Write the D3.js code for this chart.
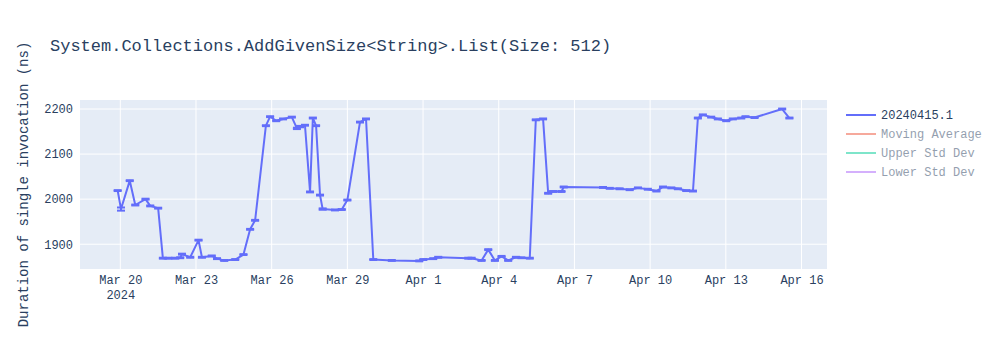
<!DOCTYPE html>
<html>
  <head>
    <meta charset="utf-8">
    <title>AddGivenSize List benchmark</title>
    <style>
      body { margin: 0; background: #fff; }
      svg text { font-family: "Liberation Mono", "Courier New", monospace; }
    </style>
  </head>
  <body>
    <div class="chart-area"></div>

    <script src="https://d3js.org/d3.v7.min.js"></script>
    <script>
      // run timestamps
      var dates = [
        "2024-03-19T21:30", "2024-03-20T00:40", "2024-03-20T09:00", "2024-03-20T14:15",
        "2024-03-21T00:00", "2024-03-21T04:30", "2024-03-21T12:00", "2024-03-21T16:30",
        "2024-03-21T21:40", "2024-03-22T04:20", "2024-03-22T09:00", "2024-03-22T10:40",
        "2024-03-22T18:30", "2024-03-23T02:25", "2024-03-23T05:40", "2024-03-23T15:00",
        "2024-03-23T20:00", "2024-03-24T02:50", "2024-03-24T13:20", "2024-03-24T21:10",
        "2024-03-25T03:30", "2024-03-25T08:15", "2024-03-25T18:30", "2024-03-25T22:30",
        "2024-03-26T04:20", "2024-03-26T10:50", "2024-03-26T19:10", "2024-03-27T00:00",
        "2024-03-27T03:00", "2024-03-27T07:40", "2024-03-27T12:30", "2024-03-27T15:10",
        "2024-03-27T18:15", "2024-03-27T22:00", "2024-03-28T00:30", "2024-03-28T12:15",
        "2024-03-28T18:40", "2024-03-29T00:00", "2024-03-29T12:00", "2024-03-29T17:45",
        "2024-03-30T00:40", "2024-03-30T18:15", "2024-03-31T20:25", "2024-04-01T00:15",
        "2024-04-01T09:40", "2024-04-01T14:25", "2024-04-02T19:00", "2024-04-02T22:10",
        "2024-04-03T07:40", "2024-04-03T14:00", "2024-04-03T20:20", "2024-04-04T02:40",
        "2024-04-04T09:00", "2024-04-04T16:20", "2024-04-04T21:40", "2024-04-05T05:30",
        "2024-04-05T11:15", "2024-04-05T18:10", "2024-04-05T23:00", "2024-04-06T03:40",
        "2024-04-06T11:40", "2024-04-06T13:50", "2024-04-08T03:10", "2024-04-08T09:35",
        "2024-04-08T19:00", "2024-04-09T04:35", "2024-04-09T12:25", "2024-04-09T21:50",
        "2024-04-10T06:00", "2024-04-10T12:15", "2024-04-10T20:10", "2024-04-11T02:25",
        "2024-04-11T10:20", "2024-04-11T16:45", "2024-04-11T21:25", "2024-04-12T02:10",
        "2024-04-12T10:05", "2024-04-12T16:25", "2024-04-13T00:25", "2024-04-13T06:40",
        "2024-04-13T14:40", "2024-04-13T18:45", "2024-04-14T03:20", "2024-04-15T05:35",
        "2024-04-15T12:30"
      ];

      // mean duration (ns)
      var durations = [
        2019, 1978, 2041, 1987, 2000, 1985, 1980, 1869,
        1869, 1869, 1870, 1878, 1871, 1909, 1871, 1874,
        1868, 1864, 1866, 1877, 1933, 1953, 2163, 2183,
        2174, 2178, 2182, 2157, 2161, 2164, 2016, 2180,
        2163, 2009, 1978, 1976, 1977, 1998, 2171, 2178,
        1866, 1864, 1863, 1866, 1868, 1871, 1869, 1869,
        1864, 1888, 1864, 1873, 1864, 1871, 1870, 1869,
        2176, 2178, 2013, 2017, 2017, 2027, 2026, 2024,
        2023, 2021, 2025, 2022, 2018, 2027, 2025, 2023,
        2019, 2018, 2180, 2187, 2182, 2178, 2174, 2178,
        2180, 2183, 2181, 2200, 2180
      ];

      // error (ns), symmetric
      var errors = [
        1, 3.5, 1, 1, 1, 1, 1, 1,
        1, 1, 1, 1, 1, 1, 1, 1,
        1, 1, 1, 1, 1, 1, 1, 1,
        1, 1, 1, 1.5, 1.5, 1, 1, 1,
        1, 1, 1.5, 1, 1, 1, 1, 1,
        1, 1, 1, 1, 1, 1, 1, 1,
        1, 1, 1, 1, 1, 1, 1, 1,
        1, 1, 1, 1, 1, 1, 1, 1,
        1, 1, 1, 1, 1, 1, 1, 1,
        1, 1, 1, 1, 1, 1, 1, 1,
        1, 1, 1, 1, 1
      ];

      var xTicks = ["2024-03-20", "2024-03-23", "2024-03-26", "2024-03-29", "2024-04-01",
                    "2024-04-04", "2024-04-07", "2024-04-10", "2024-04-13", "2024-04-16"];
      var yTicks = [1900, 2000, 2100, 2200];

      var legendNames = ["20240415.1", "Moving Average", "Upper Std Dev", "Lower Std Dev"];
      var legendColors = ["#636efa", "#EF553B", "#00cc96", "#ab63fa"];

      var parse = d3.isoParse;
      var data = dates.map(function(d, i) {
        return { date: parse(d), value: durations[i], err: errors[i] };
      });

      var margin = {top: 100, right: 173, bottom: 81, left: 80},
          width = 1000 - margin.left - margin.right,
          height = 350 - margin.top - margin.bottom;

      var svg = d3.select(".chart-area")
        .append("svg")
          .attr("width", 1000)
          .attr("height", 350);

      var g = svg.append("g")
          .attr("transform", "translate(" + margin.left + "," + margin.top + ")");

      g.append("rect")
        .attr("width", width)
        .attr("height", height)
        .attr("fill", "#e5ecf6");

      var x = d3.scaleTime()
        .domain([parse("2024-03-18T09:40"), parse("2024-04-17T00:15")])
        .range([0, width]);

      var y = d3.scaleLinear()
        .domain([1845, 2220])
        .range([height, 0]);

      // grid
      g.append("g")
        .selectAll("line")
        .data(xTicks)
        .enter().append("line")
          .attr("x1", function(d) { return x(parse(d)); })
          .attr("x2", function(d) { return x(parse(d)); })
          .attr("y1", 0)
          .attr("y2", height)
          .attr("stroke", "#fff")
          .attr("stroke-width", 1);

      g.append("g")
        .selectAll("line")
        .data(yTicks)
        .enter().append("line")
          .attr("x1", 0)
          .attr("x2", width)
          .attr("y1", function(d) { return y(d); })
          .attr("y2", function(d) { return y(d); })
          .attr("stroke", "#fff")
          .attr("stroke-width", 1);

      // x axis labels
      var fmt = d3.timeFormat("%b %-d");
      var xAxis = g.append("g")
        .attr("transform", "translate(0," + height + ")")
        .call(d3.axisBottom(x).tickValues(xTicks.map(parse)).tickFormat(fmt).tickSize(0).tickPadding(6));
      xAxis.select(".domain").remove();
      xAxis.selectAll("text")
        .attr("fill", "#2a3f5f")
        .style("font-size", "12px")
        .style("font-family", "'Liberation Mono', monospace");
      xAxis.select(".tick text")
        .append("tspan")
          .attr("x", 0)
          .attr("dy", "1.25em")
          .text("2024");

      // y axis labels
      var yAxis = g.append("g")
        .call(d3.axisLeft(y).tickValues(yTicks).tickFormat(d3.format("d")).tickSize(0).tickPadding(7));
      yAxis.select(".domain").remove();
      yAxis.selectAll("text")
        .attr("fill", "#2a3f5f")
        .style("font-size", "12px")
        .style("font-family", "'Liberation Mono', monospace");

      // clip to the plot area
      svg.append("clipPath").attr("id", "clip")
        .append("rect").attr("width", width).attr("height", height);

      var plot = g.append("g").attr("clip-path", "url(#clip)");

      var line = d3.line()
        .x(function(d) { return x(d.date); })
        .y(function(d) { return y(d.value); });

      plot.append("path")
        .datum(data)
        .attr("fill", "none")
        .attr("stroke", "#636efa")
        .attr("stroke-width", 2)
        .attr("stroke-linejoin", "round")
        .attr("d", line);

      // error bars
      var bars = plot.append("g")
        .attr("stroke", "#636efa")
        .attr("stroke-width", 2)
        .selectAll("g")
        .data(data)
        .enter().append("g");

      bars.append("line")
        .attr("x1", function(d) { return x(d.date); })
        .attr("x2", function(d) { return x(d.date); })
        .attr("y1", function(d) { return y(d.value - d.err); })
        .attr("y2", function(d) { return y(d.value + d.err); });

      bars.append("line")
        .attr("x1", function(d) { return x(d.date) - 4; })
        .attr("x2", function(d) { return x(d.date) + 4; })
        .attr("y1", function(d) { return y(d.value + d.err); })
        .attr("y2", function(d) { return y(d.value + d.err); });

      bars.append("line")
        .attr("x1", function(d) { return x(d.date) - 4; })
        .attr("x2", function(d) { return x(d.date) + 4; })
        .attr("y1", function(d) { return y(d.value - d.err); })
        .attr("y2", function(d) { return y(d.value - d.err); });

      // title
      svg.append("text")
        .attr("x", 50)
        .attr("y", 51)
        .attr("fill", "#2a3f5f")
        .style("font-size", "17px")
        .text("System.Collections.AddGivenSize<String>.List(Size: 512)");

      // y axis title
      svg.append("text")
        .attr("transform", "translate(28," + (margin.top + height / 2) + ") rotate(-90)")
        .attr("text-anchor", "middle")
        .attr("fill", "#2a3f5f")
        .style("font-size", "14px")
        .text("Duration of single invocation (ns)");

      // legend
      var legend = svg.append("g")
        .selectAll("g")
        .data(legendNames)
        .enter().append("g")
          .attr("transform", function(d, i) { return "translate(846," + (115 + i * 19) + ")"; })
          .attr("opacity", function(d, i) { return i === 0 ? 1 : 0.5; });

      legend.append("line")
        .attr("x1", 0)
        .attr("x2", 30)
        .attr("stroke", function(d, i) { return legendColors[i]; })
        .attr("stroke-width", 2);

      legend.append("text")
        .attr("x", 35)
        .attr("dy", "0.35em")
        .attr("fill", "#2a3f5f")
        .style("font-size", "12px")
        .text(function(d) { return d; });
    </script>
  </body>
</html>
